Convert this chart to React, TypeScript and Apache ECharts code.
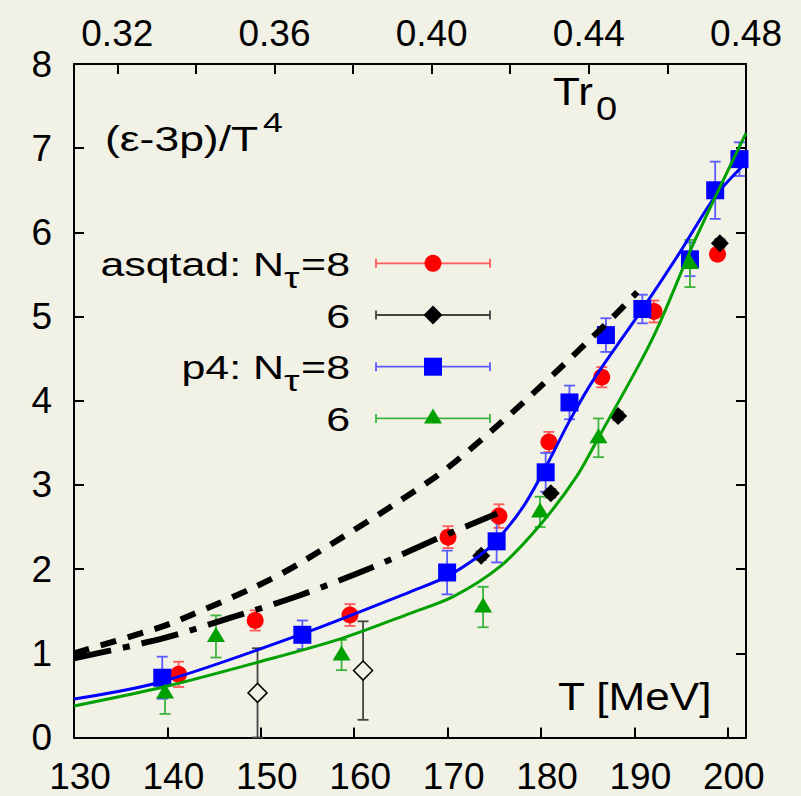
import React, { useEffect, useRef } from 'react';
import * as echarts from 'echarts';

// ---------- axis ranges / ticks ----------
const T_MIN = 130;
const T_MAX = 201.95;
const TR0_MAX = 0.48;
const TR0_MIN = (TR0_MAX * T_MIN) / T_MAX;
const tTicks = [130, 140, 150, 160, 170, 180, 190, 200];
const tr0Ticks = [0.32, 0.34, 0.36, 0.38, 0.4, 0.42, 0.44, 0.46, 0.48];
const tr0Labels = [0.32, 0.36, 0.4, 0.44, 0.48];

// ---------- data: [T (MeV), (e-3p)/T^4, error] ----------
const asqtadNt8 = [
  [141.2, 0.75, 0.15], [149.4, 1.39, 0.12], [159.55, 1.455, 0.13], [170.05, 2.38, 0.13],
  [175.5, 2.63, 0.14], [180.85, 3.51, 0.12], [186.5, 4.28, 0.12], [192.1, 5.06, 0.13],
  [198.9, 5.74, 0.07],
];
const asqtadNt6 = [
  [173.6, 2.16, 0.05], [181.05, 2.9, 0.05], [188.25, 3.82, 0.05], [199.15, 5.87, 0.05],
];
const asqtadNt6Open = [
  [149.65, 0.53, 0.53], [160.95, 0.795, 0.585],
];
const p4Nt8 = [
  [139.45, 0.71, 0.25], [154.45, 1.22, 0.17], [169.95, 1.96, 0.26], [175.25, 2.33, 0.25],
  [180.5, 3.15, 0.23], [183.05, 3.98, 0.2], [186.95, 4.78, 0.2], [190.85, 5.09, 0.17],
  [195.95, 5.68, 0.2], [198.65, 6.5, 0.34], [201.25, 6.87, 0.2],
];
const p4Nt6 = [
  [139.75, 0.53, 0.25], [145.2, 1.2, 0.25], [158.65, 0.98, 0.18], [173.8, 1.55, 0.24],
  [179.9, 2.68, 0.18], [186.15, 3.56, 0.23], [195.95, 5.63, 0.28],
];

// ---------- curves: [T, value] ----------
const fitP4Nt8 = [
  [130, 0.457], [139.4, 0.663], [154.4, 1.229], [166, 1.731], [169.9, 1.91], [173.5, 2.168],
  [175.3, 2.346], [178.1, 2.742], [180.5, 3.21], [183.1, 3.77], [185.8, 4.28], [190.8, 5.08],
  [194.8, 5.75], [198.6, 6.42], [201.95, 6.83],
];
const fitP4Nt6 = [
  [130, 0.375], [139.7, 0.603], [149.9, 0.9], [158.7, 1.178], [166, 1.475], [170.6, 1.673],
  [175.6, 2.029], [179.9, 2.524], [183.8, 3.098], [186.2, 3.57], [190.6, 4.45], [192.7, 4.92],
  [196.5, 5.91], [201.95, 7.18],
];
const dashedCurve = [
  [130, 1.0], [138.7, 1.29], [141.4, 1.4], [149.2, 1.78], [154.2, 2.07], [168.5, 3.08],
  [175.3, 3.7], [181.3, 4.31], [187.4, 4.96], [190.3, 5.29],
];
const dashDotCurve = [
  [130, 0.94], [139.6, 1.18], [146.7, 1.42], [154.2, 1.69], [161.7, 2.01], [167, 2.27],
  [170.3, 2.43], [175.3, 2.66],
];

// ---------- legend labels ----------
const legendLabels = [
  { main: 'asqtad: N', sub: 'τ', tail: '=8' },
  { main: '', sub: '', tail: '6' },
  { main: 'p4: N', sub: 'τ', tail: '=8' },
  { main: '', sub: '', tail: '6' },
];

const FONT = '"Liberation Sans", Arial, Helvetica, sans-serif';
const BG = '#f2f1e6';
const RED = '#ff0000';
const BLUE = '#0000ff';
const GREEN = '#00a000';
const BLACK = '#000000';
const ERR = { red: '#ff5a5a', black: '#444444', blue: '#5a5aff', green: '#3cb43c' };

function errSeries(data: number[][], color: string, z: number) {
  return {
    type: 'custom',
    data,
    z,
    silent: true,
    encode: { x: 0, y: 1 },
    renderItem: (_params: any, api: any) => {
      const x = api.value(0);
      const y = api.value(1);
      const e = api.value(2);
      const top = api.coord([x, y + e]);
      const bot = api.coord([x, y - e]);
      const hw = 5.5;
      const style = { stroke: color, lineWidth: 1.8 };
      return {
        type: 'group',
        children: [
          { type: 'line', shape: { x1: top[0], y1: top[1], x2: bot[0], y2: bot[1] }, style },
          { type: 'line', shape: { x1: top[0] - hw, y1: top[1], x2: top[0] + hw, y2: top[1] }, style },
          { type: 'line', shape: { x1: bot[0] - hw, y1: bot[1], x2: bot[0] + hw, y2: bot[1] }, style },
        ],
      };
    },
  };
}

function txt(x: number, y: number, text: string, fontSize: number, align: string, sx: number) {
  return {
    type: 'text',
    x,
    y,
    scaleX: sx,
    z: 100,
    style: { text, fontSize, fontFamily: FONT, fill: '#000', align, verticalAlign: 'middle' },
  };
}

function legendGraphics() {
  const els: any[] = [];
  const colors = [RED, BLACK, BLUE, GREEN];
  const errColors = [ERR.red, ERR.black, ERR.blue, ERR.green];
  const x1 = 376;
  const x2 = 490;
  const cx = 433;
  legendLabels.forEach((lab, i) => {
    const y = 263.3 + i * 51.7;
    const st = { stroke: errColors[i], lineWidth: 1.8 };
    els.push({ type: 'line', z: 100, shape: { x1, y1: y, x2, y2: y }, style: st });
    els.push({ type: 'line', z: 100, shape: { x1, y1: y - 4.5, x2: x1, y2: y + 4.5 }, style: st });
    els.push({ type: 'line', z: 100, shape: { x1: x2, y1: y - 4.5, x2, y2: y + 4.5 }, style: st });
    const fill = { fill: colors[i] };
    if (i === 0) els.push({ type: 'circle', z: 101, shape: { cx, cy: y, r: 8.5 }, style: fill });
    if (i === 1)
      els.push({ type: 'polygon', z: 101, shape: { points: [[cx, y - 9.5], [cx + 9.5, y], [cx, y + 9.5], [cx - 9.5, y]] }, style: fill });
    if (i === 2) els.push({ type: 'rect', z: 101, shape: { x: cx - 9, y: y - 9, width: 18, height: 18 }, style: fill });
    if (i === 3)
      els.push({ type: 'polygon', z: 101, shape: { points: [[cx, y - 10], [cx + 9, y + 5], [cx - 9, y + 5]] }, style: fill });
    els.push(txt(350, y + 1, lab.tail, 33, 'right', 1.3));
    if (lab.main) {
      els.push(txt(284, y + 1, lab.main, 33, 'right', 1.3));
      els.push(txt(284, y + 14, lab.sub, 30, 'left', 1.3));
    }
  });
  return els;
}

export default function App() {
  const ref = useRef<HTMLDivElement>(null);
  useEffect(() => {
    if (!ref.current) return;
    const chart = echarts.init(ref.current, null, { renderer: 'svg' });
    const axisLine = { show: true, onZero: false, lineStyle: { color: '#000', width: 2 } };
    const tick = { show: true, inside: true, length: 10, lineStyle: { color: '#000', width: 2 } };
    const label = { color: '#000', fontSize: 37, fontFamily: FONT };
    const option: any = {
      animation: false,
      backgroundColor: BG,
      grid: { left: 74, right: 55, top: 64, bottom: 58.5, containLabel: false, outerBoundsMode: 'none' },
      xAxis: [
        {
          type: 'value',
          position: 'bottom',
          min: T_MIN,
          max: T_MAX,
          axisLine,
          axisTick: { ...tick, customValues: tTicks },
          axisLabel: { ...label, margin: 20, padding: [0, 0, 0, 12], customValues: tTicks },
          splitLine: { show: false },
        },
        {
          type: 'value',
          position: 'top',
          min: TR0_MIN,
          max: TR0_MAX,
          axisLine,
          axisTick: { ...tick, customValues: tr0Ticks },
          axisLabel: { ...label, margin: 12, customValues: tr0Labels, formatter: (v: number) => v.toFixed(2) },
          splitLine: { show: false },
        },
      ],
      yAxis: [
        {
          type: 'value',
          position: 'left',
          min: 0,
          max: 8,
          interval: 1,
          axisLine,
          axisTick: tick,
          axisLabel: { ...label, margin: 22 },
          splitLine: { show: false },
        },
        {
          type: 'value',
          position: 'right',
          min: 0,
          max: 8,
          interval: 1,
          axisLine,
          axisTick: tick,
          axisLabel: { show: false },
          splitLine: { show: false },
        },
      ],
      series: [
        errSeries(asqtadNt8, ERR.red, 2),
        errSeries(asqtadNt6, ERR.black, 2),
        errSeries(asqtadNt6Open, ERR.black, 2),
        errSeries(p4Nt8, ERR.blue, 2),
        errSeries(p4Nt6, ERR.green, 2),
        { type: 'scatter', data: asqtadNt8, z: 3, symbol: 'circle', symbolSize: 17, itemStyle: { color: RED, opacity: 1 }, silent: true },
        { type: 'scatter', data: asqtadNt6Open, z: 3, symbol: 'diamond', symbolSize: 19, itemStyle: { color: BG, borderColor: BLACK, borderWidth: 1.5, opacity: 1 }, silent: true },
        { type: 'scatter', data: asqtadNt6, z: 4, symbol: 'diamond', symbolSize: 18, itemStyle: { color: BLACK, opacity: 1 }, silent: true },
        { type: 'scatter', data: p4Nt8, z: 5, symbol: 'rect', symbolSize: 18, itemStyle: { color: BLUE, opacity: 1 }, silent: true },
        { type: 'scatter', data: p4Nt6, z: 6, symbol: 'triangle', symbolSize: [18, 15], symbolOffset: [0, -2], itemStyle: { color: GREEN, opacity: 1 }, silent: true },
        { type: 'line', data: dashedCurve, z: 8, showSymbol: false, smooth: 0.3, lineStyle: { color: BLACK, width: 6, type: [16, 12], cap: 'butt' }, silent: true },
        { type: 'line', data: dashDotCurve, z: 8, showSymbol: false, smooth: 0.3, lineStyle: { color: BLACK, width: 6, type: [38, 12, 7, 12], cap: 'butt' }, silent: true },
        { type: 'line', data: fitP4Nt8, z: 9, showSymbol: false, smooth: 0.3, lineStyle: { color: BLUE, width: 3 }, silent: true },
        { type: 'line', data: fitP4Nt6, z: 9, showSymbol: false, smooth: 0.3, lineStyle: { color: GREEN, width: 3 }, silent: true },
      ],
      graphic: [
        txt(105, 139, '(ε-3p)/T', 35, 'left', 1.27),
        txt(263, 122, '4', 28, 'left', 1.27),
        txt(553, 92, 'Tr', 38, 'left', 1.16),
        txt(596, 108, '0', 34, 'left', 1.12),
        txt(558, 697, 'T [MeV]', 38, 'left', 1.16),
        ...legendGraphics(),
      ],
    };
    chart.setOption(option);
    return () => chart.dispose();
  }, []);
  return <div ref={ref} style={{ position: 'absolute', left: 0, top: 0, width: 801, height: 796 }} />;
}
